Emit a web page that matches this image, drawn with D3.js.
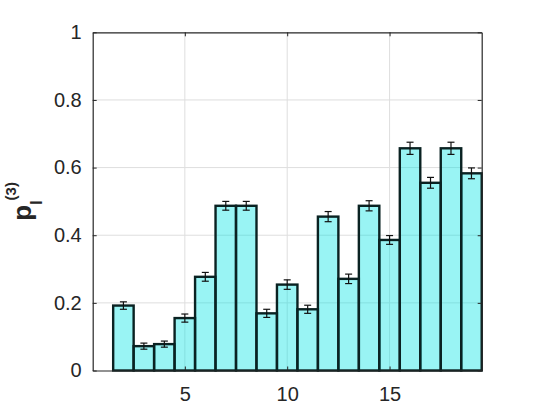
<!DOCTYPE html>
<html lang="en">

<head>
    <meta charset="UTF-8">
    <title>Document</title>
    <style>
        body { margin: 0; background: #fff; }
        text { font-family: "Liberation Sans", Arial, sans-serif; }
    </style>
</head>

<body>
    <svg width="534" height="415" id="svg">
    </svg>
    <script src="https://d3js.org/d3.v7.min.js"></script>
    <script>
        // bins 1..19, bin 1 is empty
        const bins = [1, 2, 3, 4, 5, 6, 7, 8, 9, 10, 11, 12, 13, 14, 15, 16, 17, 18, 19]
        const values = [0, 0.192, 0.072, 0.078, 0.155, 0.277, 0.487, 0.487, 0.169, 0.254,
            0.181, 0.455, 0.271, 0.487, 0.386, 0.657, 0.555, 0.657, 0.583]
        const errors = [0, 0.011, 0.009, 0.009, 0.012, 0.013, 0.013, 0.013, 0.012, 0.014,
            0.012, 0.015, 0.014, 0.015, 0.013, 0.018, 0.016, 0.018, 0.016]
        const xTicks = [5, 10, 15]
        const yTicks = [0, 0.2, 0.4, 0.6, 0.8, 1]

        const data = bins.map((b, i) => ({ bin: b, value: values[i], err: errors[i] }))

        const padding = { top: 32.3, left: 92.7, right: 52.3, bottom: 44.5 }
        const svg = d3.select("svg#svg")
        const width = +svg.attr("width")
        const height = +svg.attr("height")
        const innerWidth = width - padding.left - padding.right
        const innerHeight = height - padding.top - padding.bottom
        const axisColor = "#262626"

        const xScale = d3.scaleLinear().domain([0.5, 19.5]).range([0, innerWidth])
        const yScale = d3.scaleLinear().domain([0, 1]).range([innerHeight, 0])

        const g = svg.append("g").attr("transform", `translate(${padding.left}, ${padding.top})`)

        // grid
        g.append("g").selectAll("line").data(xTicks).join("line")
            .attr("x1", d => xScale(d)).attr("x2", d => xScale(d))
            .attr("y1", 0).attr("y2", innerHeight)
            .attr("stroke", "#dedede").attr("stroke-width", 1)
        g.append("g").selectAll("line").data(yTicks.slice(1, -1)).join("line")
            .attr("y1", d => yScale(d)).attr("y2", d => yScale(d))
            .attr("x1", 0).attr("x2", innerWidth)
            .attr("stroke", "#dedede").attr("stroke-width", 1)

        // bars
        g.append("g").selectAll("rect").data(data).join("rect")
            .attr("x", d => xScale(d.bin - 0.5))
            .attr("width", xScale(1.5) - xScale(0.5))
            .attr("y", d => yScale(d.value))
            .attr("height", d => yScale(0) - yScale(d.value))
            .attr("fill", "#00e4e4").attr("fill-opacity", 0.4)
            .attr("stroke", "#0a2222").attr("stroke-width", 2.4)

        // error bars
        const eb = g.append("g").selectAll("g").data(data.filter(d => d.err > 0)).join("g")
            .attr("stroke", "#111").attr("stroke-width", 1.2)
        eb.append("line")
            .attr("x1", d => xScale(d.bin)).attr("x2", d => xScale(d.bin))
            .attr("y1", d => yScale(d.value - d.err)).attr("y2", d => yScale(d.value + d.err))
        eb.append("line")
            .attr("x1", d => xScale(d.bin) - 3.5).attr("x2", d => xScale(d.bin) + 3.5)
            .attr("y1", d => yScale(d.value - d.err)).attr("y2", d => yScale(d.value - d.err))
        eb.append("line")
            .attr("x1", d => xScale(d.bin) - 3.5).attr("x2", d => xScale(d.bin) + 3.5)
            .attr("y1", d => yScale(d.value + d.err)).attr("y2", d => yScale(d.value + d.err))

        // axes (box with ticks on all sides)
        const xAxis = d3.axisBottom(xScale).tickValues(xTicks).tickSizeInner(-4).tickSizeOuter(0).tickPadding(16)
        const yAxis = d3.axisLeft(yScale).tickValues(yTicks).tickFormat(d3.format("")).tickSizeInner(-4).tickSizeOuter(0).tickPadding(11)
        const xTop = d3.axisTop(xScale).tickValues(xTicks).tickSizeInner(-4).tickSizeOuter(0)
        const yRight = d3.axisRight(yScale).tickValues(yTicks).tickSizeInner(-4).tickSizeOuter(0)

        g.append("g").attr("transform", `translate(0, ${innerHeight})`).call(xAxis)
        g.append("g").call(yAxis)
        g.append("g").call(xTop).selectAll("text").remove()
        g.append("g").attr("transform", `translate(${innerWidth}, 0)`).call(yRight).selectAll("text").remove()

        g.selectAll(".domain").attr("stroke", axisColor).attr("stroke-width", 1.2)
        g.selectAll(".tick line").attr("stroke", axisColor)
        g.selectAll(".tick text").attr("fill", axisColor).attr("font-size", 20)
            .attr("font-family", "'Liberation Sans', Arial, sans-serif")

        // y label: p_l^(3)
        const yl = svg.append("text")
            .attr("transform", `translate(31, ${padding.top + innerHeight / 2}) rotate(-90)`)
            .attr("text-anchor", "middle").attr("fill", axisColor).attr("font-weight", "bold")
        yl.append("tspan").attr("font-size", 26).text("p")
        yl.append("tspan").attr("font-size", 16).attr("dy", 11).text("l")
        yl.append("tspan").attr("font-size", 15).attr("dy", -26).text("(3)")
    </script>
</body>

</html>
